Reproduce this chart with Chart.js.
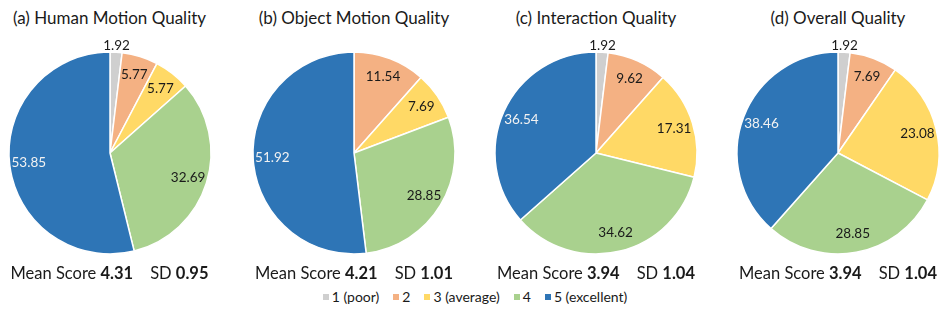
<!DOCTYPE html>
<html>
<head>
<meta charset="utf-8">
<script src="https://cdn.jsdelivr.net/npm/chart.js@4"></script>
<style>
  html, body { margin: 0; padding: 0; background: #fff; }
  body { width: 947px; height: 312px; position: relative; overflow: hidden; font-family: Lato, "Open Sans", sans-serif; color: #1a1a1a; }
  .title { position: absolute; top: 7px; width: 240px; text-align: center; font-size: 17px; white-space: nowrap; }
  .mean { position: absolute; top: 263px; width: 240px; text-align: center; font-size: 16.5px; white-space: nowrap; }
  .mean b { font-weight: 700; }
  .mean .sd { margin-left: 17px; }
  canvas { position: absolute; }
  #legend { position: absolute; top: 288px; left: 0; width: 950px; display: flex; justify-content: center; font-size: 14px; white-space: nowrap; }
  #legend .item { display: flex; align-items: center; margin: 0 7px; }
  #legend .sw { width: 6px; height: 6px; margin-right: 3px; }
</style>
</head>
<body>
<script>
const categories = ["1 (poor)", "2", "3 (average)", "4", "5 (excellent)"];
const chartTitles = ["(a) Human Motion Quality", "(b) Object Motion Quality", "(c) Interaction Quality", "(d) Overall Quality"];
const humanMotion = [1.92, 5.77, 5.77, 32.69, 53.85];
const objectMotion = [0, 11.54, 7.69, 28.85, 51.92];
const interaction = [1.92, 9.62, 17.31, 34.62, 36.54];
const overall = [1.92, 7.69, 23.08, 28.85, 38.46];
const meanScores = ["4.31", "4.21", "3.94", "3.94"];
const sdValues = ["0.95", "1.01", "1.04", "1.04"];
const colors = ["#CFCFCF", "#F4B183", "#FFD966", "#A9D18E", "#2E75B6"];

const seriesList = [humanMotion, objectMotion, interaction, overall];
const centersX = [109.5, 354, 596, 838];
const centerY = 153;
const R = 101;
const CW = 240, CH = 240;

const labelPlugin = {
  id: 'sliceLabels',
  afterDatasetsDraw(chart) {
    const ctx = chart.ctx;
    const meta = chart.getDatasetMeta(0);
    const data = chart.data.datasets[0].data;
    ctx.save();
    ctx.font = '13.5px Lato, "Open Sans", sans-serif';
    ctx.textAlign = 'center';
    ctx.textBaseline = 'middle';
    meta.data.forEach((arc, i) => {
      const v = data[i];
      if (!v) return;
      const p = arc.getProps(['x', 'y', 'startAngle', 'endAngle', 'outerRadius'], true);
      const mid = (p.startAngle + p.endAngle) / 2;
      let r, color;
      if (v < 3) { r = p.outerRadius + 7; color = '#1a1a1a'; }
      else { r = p.outerRadius * 0.81; color = i === 4 ? '#F2F2F2' : '#1a1a1a'; }
      ctx.fillStyle = color;
      ctx.fillText(v.toFixed(2), p.x + Math.cos(mid) * r, p.y + Math.sin(mid) * r);
    });
    ctx.restore();
  }
};

seriesList.forEach((series, k) => {
  const cx = centersX[k];
  const t = document.createElement('div');
  t.className = 'title';
  t.style.left = (cx - 120) + 'px';
  t.textContent = chartTitles[k];
  document.body.appendChild(t);

  const c = document.createElement('canvas');
  c.width = CW; c.height = CH;
  c.style.width = CW + 'px'; c.style.height = CH + 'px';
  c.style.left = (cx - CW / 2) + 'px';
  c.style.top = (centerY - CH / 2) + 'px';
  document.body.appendChild(c);

  new Chart(c, {
    type: 'pie',
    data: {
      labels: categories,
      datasets: [{
        data: series,
        backgroundColor: colors,
        borderColor: '#ffffff',
        borderWidth: 1.5,
        radius: R
      }]
    },
    options: {
      responsive: false,
      animation: false,
      events: [],
      layout: { padding: 0 },
      plugins: { legend: { display: false }, tooltip: { enabled: false }, title: { display: false } }
    },
    plugins: [labelPlugin]
  });

  const m = document.createElement('div');
  m.className = 'mean';
  m.style.left = (cx - 120) + 'px';
  m.innerHTML = 'Mean Score <b>' + meanScores[k] + '</b><span class="sd">SD <b>' + sdValues[k] + '</b></span>';
  document.body.appendChild(m);
});

const lg = document.createElement('div');
lg.id = 'legend';
categories.forEach((cat, i) => {
  const it = document.createElement('div');
  it.className = 'item';
  const sw = document.createElement('span');
  sw.className = 'sw';
  sw.style.background = colors[i];
  const tx = document.createElement('span');
  tx.textContent = cat;
  it.appendChild(sw); it.appendChild(tx);
  lg.appendChild(it);
});
document.body.appendChild(lg);
</script>
</body>
</html>
